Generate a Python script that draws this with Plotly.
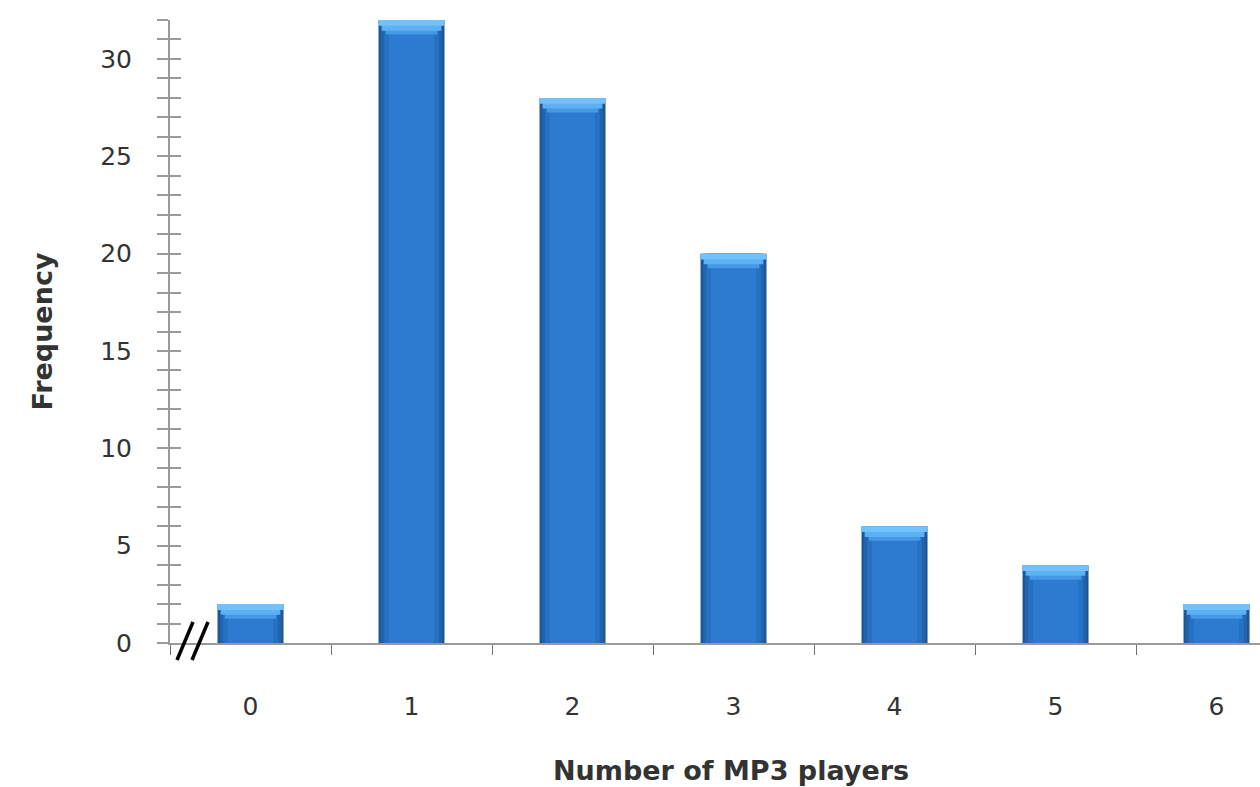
import plotly.graph_objects as go

# Survey: how many MP3 players each respondent owns
players = ["0", "1", "2", "3", "4", "5", "6"]
frequency = [2, 32, 28, 20, 6, 4, 2]

FONT = "DejaVu Sans"
AXIS_GREY = "#9a9a9a"
TEXT = "#333333"

fig = go.Figure()

# Bars built from layered widths to give the bevelled, shaded look
body_layers = [(0.41, "#1b5799"), (0.38, "#2164ae"), (0.34, "#2771c2"),
               (0.28, "#2c7bd0")]
for i, (w, col) in enumerate(body_layers):
    fig.add_trace(go.Bar(x=players, y=frequency, width=w,
                         marker=dict(color=col, line=dict(width=0)),
                         name="Frequency", showlegend=False,
                         hoverinfo="skip" if i < len(body_layers) - 1 else None))

# light bevel along the top of each bar (wide at the top, narrowing down)
bevel_layers = [(0.41, 0.3, "#72c1fa"), (0.37, 0.55, "#5cb1f3"),
                (0.32, 0.75, "#4599e6")]
for w, depth, col in reversed(bevel_layers):
    fig.add_trace(go.Bar(x=players, y=[depth] * len(frequency),
                         base=[v - depth for v in frequency], width=w,
                         marker=dict(color=col, line=dict(width=0)),
                         hoverinfo="skip", showlegend=False))

tick_font = dict(family=FONT, size=25, color=TEXT)
title_font = dict(family=FONT, size=27, color=TEXT)

fig.update_layout(
    width=1260, height=787,
    margin=dict(l=170, r=0, t=20, b=144),
    paper_bgcolor="white", plot_bgcolor="white",
    barmode="overlay",
    xaxis=dict(
        type="category", range=[-0.5, 6.27],
        showline=True, linecolor=AXIS_GREY, linewidth=2,
        ticks="outside", tickson="boundaries", ticklen=10,
        tickcolor="#707070", tickwidth=1,
        ticklabelstandoff=40, tickfont=tick_font,
        showgrid=False, zeroline=False,
        automargin=False,
    ),
    yaxis=dict(
        range=[0, 32], tickvals=[0, 5, 10, 15, 20, 25, 30],
        showline=True, linecolor=AXIS_GREY, linewidth=2,
        ticks="outside", ticklen=11, tickcolor=AXIS_GREY, tickwidth=2,
        minor=dict(dtick=1, ticks="outside", ticklen=11,
                   tickcolor=AXIS_GREY, tickwidth=2),
        ticklabelstandoff=20, tickfont=tick_font,
        showgrid=False, zeroline=False,
        title=dict(text="<b>Frequency</b>", font=title_font, standoff=40),
        automargin=False,
    ),
    # mirror axis carrying the inward half of each tick mark
    yaxis2=dict(
        overlaying="y", side="left", range=[0, 32],
        tickvals=[0, 5, 10, 15, 20, 25, 30], showticklabels=False,
        ticks="inside", ticklen=11, tickcolor=AXIS_GREY, tickwidth=2,
        minor=dict(dtick=1, ticks="inside", ticklen=11,
                   tickcolor=AXIS_GREY, tickwidth=2),
        showgrid=False, zeroline=False, showline=False,
    ),
)

# x-axis title, placed as an annotation below the tick labels
fig.add_annotation(text="<b>Number of MP3 players</b>", font=title_font,
                   xref="paper", yref="paper", x=0.5, y=0,
                   xshift=16, yshift=-127, yanchor="middle",
                   showarrow=False)

# invisible trace so the mirror axis is drawn
fig.add_trace(go.Scatter(x=[players[0]], y=[0], yaxis="y2", mode="markers",
                         marker=dict(opacity=0), hoverinfo="skip",
                         showlegend=False))

# axis-break marker "//" at the origin
for dx in (0, 15):
    fig.add_shape(type="line", xref="paper", yref="paper",
                  xsizemode="pixel", ysizemode="pixel",
                  xanchor=0, yanchor=0,
                  x0=7 + dx, y0=-17, x1=23 + dx, y1=21,
                  line=dict(color="black", width=3.5))

fig.write_html("out.html")
